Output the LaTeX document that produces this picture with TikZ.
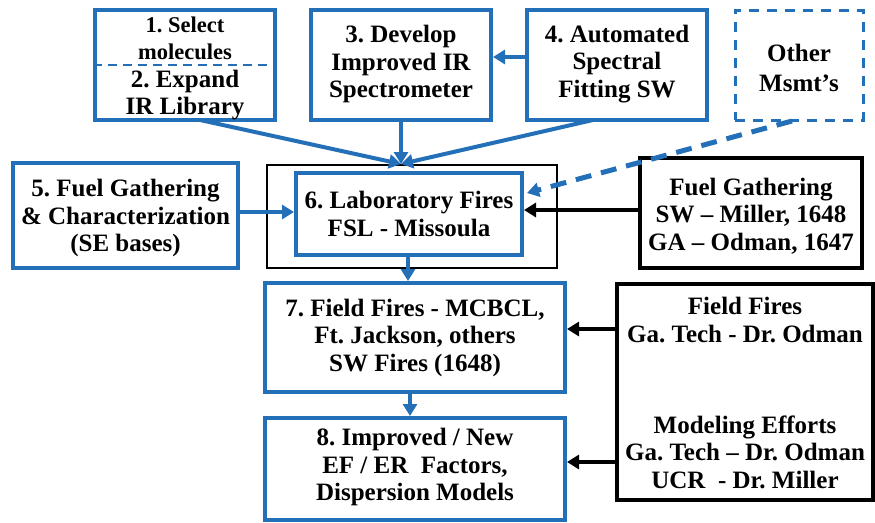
\documentclass[tikz,border=0pt]{standalone}
\usepackage{fontspec}
\setmainfont{Liberation Serif}[BoldFont={Liberation Serif Bold}]
\usetikzlibrary{arrows.meta}
\definecolor{fsblue}{RGB}{36,112,184}
\tikzset{
  bluebox/.style={draw=fsblue, line width=4pt, inner sep=0pt, fill=white},
  blackbox/.style={draw=black, line width=3.5pt, inner sep=0pt},
  txt/.style={align=center, font=\fontsize{25}{27.5}\selectfont\bfseries\frenchspacing, inner sep=0pt},
  smalltxt/.style={align=center, font=\fontsize{22.5}{27}\selectfont\bfseries\frenchspacing, inner sep=0pt},
  bluearrow/.style={draw=fsblue, line width=4pt, -{Triangle[length=12pt,width=14pt]}},
  blackarrow/.style={draw=black, line width=3.5pt, -{Triangle[length=12pt,width=14pt]}},
}
\begin{document}
\begin{tikzpicture}[x=1pt, y=-1pt]
\useasboundingbox (0,0) rectangle (875,522);

% top row
\node[bluebox, minimum width=180pt, minimum height=110pt] (b12) at (185,65) {};
\draw[fsblue, line width=2.5pt, dash pattern=on 9pt off 6pt] (b12.west |- 0,65) -- (b12.east |- 0,65);
\node[smalltxt] (t1) at (185,38) {1. Select\\molecules};
\node[txt] (t2) at (185,95) {2. Expand\\IR Library};

\node[bluebox, minimum width=180pt, minimum height=110pt] (b3) at (401,65) {};
\node[txt] (t3) at (401,64) {3. Develop\\Improved IR\\Spectrometer};
\node[bluebox, minimum width=180pt, minimum height=110pt] (b4) at (617,65) {};
\node[txt] (t4) at (617,64) {4. Automated\\Spectral\\Fitting SW};
\node[draw=fsblue, line width=3pt, dash pattern=on 10pt off 8pt, minimum width=128pt, minimum height=110pt] (bo) at (799,65) {};
\node[txt, font=\fontsize{25}{30}\selectfont\bfseries] (to) at (799,68) {Other\\Msmt’s};

% middle row
\node[draw=black, line width=2.5pt, minimum width=290pt, minimum height=103pt] (outer) at (412,216.5) {};
\node[bluebox, minimum width=226pt, minimum height=82pt, txt] (b6) at (409,214) {6. Laboratory Fires\\FSL - Missoula};
\node[bluebox, minimum width=225pt, minimum height=105pt] (b5) at (125.5,215.5) {};
\node[txt] (t5) at (125.5,218) {5. Fuel Gathering\\\& Characterization\\(SE bases)};
\node[blackbox, minimum width=222pt, minimum height=110pt] (bfg) at (751,213) {};
\node[txt] (tfg) at (751,216) {Fuel Gathering\\SW – Miller, 1648\\GA – Odman, 1647};

% lower rows
\node[bluebox, minimum width=300pt, minimum height=109pt, txt] (b7) at (415,337.5) {7. Field Fires - MCBCL,\\Ft. Jackson, others\\SW Fires (1648)};
\node[bluebox, minimum width=300pt, minimum height=102pt] (b8) at (415,469) {};
\node[txt] (t8) at (415,467) {8. Improved / New\\EF / ER\ \ Factors,\\Dispersion Models};
\node[blackbox, minimum width=256pt, minimum height=216pt] (br) at (745,392) {};
\node[txt] (tff) at (745,320) {Field Fires\\Ga. Tech - Dr. Odman};
\node[txt] (tme) at (745,452) {Modeling Efforts\\Ga. Tech – Dr. Odman\\UCR\ \ - Dr. Miller};

% connectors
\coordinate (meet) at (401,164);
\coordinate (s12) at (200,120);
\coordinate (s4) at (593,120);
\draw[bluearrow] (s12) -- (meet);
\draw[bluearrow] (b3.south) -- (meet);
\draw[bluearrow] (s4) -- (meet);
\draw[bluearrow] (b4.west |- 0,57) -- (b3.east |- 0,57);

\coordinate (so) at (792,121);
\coordinate (te) at (527,193);
\draw[draw=fsblue, line width=5pt, dash pattern=on 16pt off 10pt, -{Triangle[length=12pt,width=14pt]}] (so) -- (te);

\draw[bluearrow] (b5.east |- 0,212) -- (b6.west |- 0,212);
\draw[blackarrow] (bfg.west |- 0,210) -- (b6.east |- 0,210);
\draw[bluearrow] (b6.south -| 408,0) -- (b7.north -| 408,0);
\draw[bluearrow] (b7.south -| 410,0) -- (b8.north -| 410,0);
\draw[blackarrow] (br.west |- 0,329) -- (b7.east |- 0,329);
\draw[blackarrow] (br.west |- 0,462) -- (b8.east |- 0,462);
\end{tikzpicture}
\end{document}
